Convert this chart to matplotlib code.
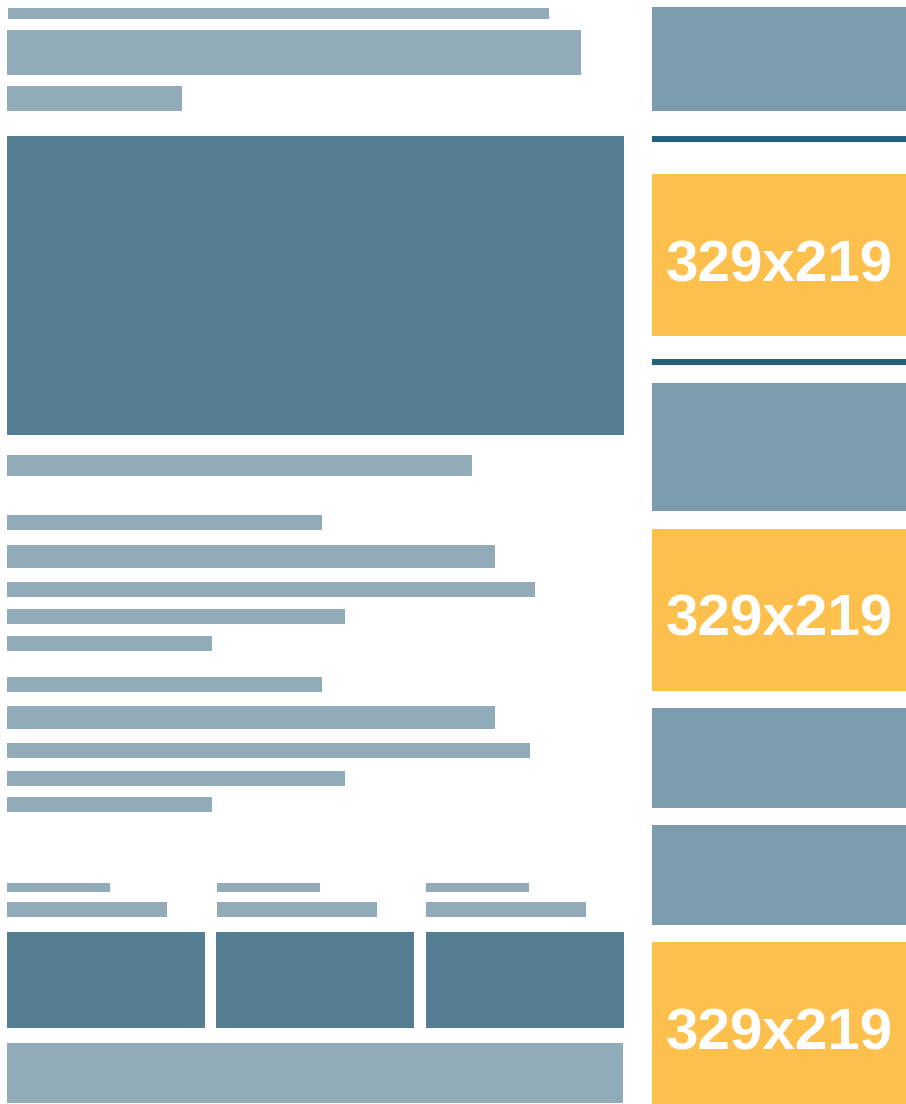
import matplotlib
matplotlib.use("Agg")
import matplotlib.pyplot as plt
from matplotlib.patches import Rectangle

# Wireframe blocks: (x, y, width, height) in pixel units of the page
text_lines = [
    (8, 8, 541, 11), (7, 30, 574, 45), (7, 86, 175, 25),
    (7, 455, 465, 21),
    (7, 515, 315, 15), (7, 545, 488, 23), (7, 582, 528, 15), (7, 609, 338, 15), (7, 636, 205, 15),
    (7, 677, 315, 15), (7, 706, 488, 23), (7, 743, 523, 15), (7, 771, 338, 15), (7, 797, 205, 15),
    (7, 883, 103, 9), (217, 883, 103, 9), (426, 883, 103, 9),
    (7, 902, 160, 15), (217, 902, 160, 15), (426, 902, 160, 15),
    (7, 1043, 616, 60),
]
image_blocks = [
    (7, 136, 617, 299),
    (7, 932, 198, 96), (216, 932, 198, 96), (426, 932, 198, 96),
]
sidebar_blocks = [
    (652, 7, 254, 104), (652, 383, 254, 128), (652, 708, 254, 100), (652, 825, 254, 100),
]
dividers = [(652, 136, 254, 6), (652, 359, 254, 6)]
ads = [(652, 174, 254, 162), (652, 529, 254, 162), (652, 942, 254, 162)]
ad_label = "329x219"

fig = plt.figure(figsize=(9.06, 11.04), dpi=100)
ax = fig.add_axes([0, 0, 1, 1])
ax.set_xlim(0, 906)
ax.set_ylim(1104, 0)
ax.axis("off")

def draw(blocks, color):
    for (x, y, w, h) in blocks:
        ax.add_patch(Rectangle((x, y), w, h, facecolor=color, edgecolor="none", linewidth=0))

draw(text_lines, "#91acb8")
draw(image_blocks, "#557e92")
draw(sidebar_blocks, "#7b9cac")
draw(dividers, "#22627a")
draw(ads, "#fec04c")

for (x, y, w, h) in ads:
    ax.text(x + w / 2, y + h / 2 + 26, ad_label, ha="center", va="baseline",
            color="white", fontweight="bold", fontsize=42,
            family=["Liberation Sans", "DejaVu Sans"])

fig.savefig("out.png", dpi=100)
